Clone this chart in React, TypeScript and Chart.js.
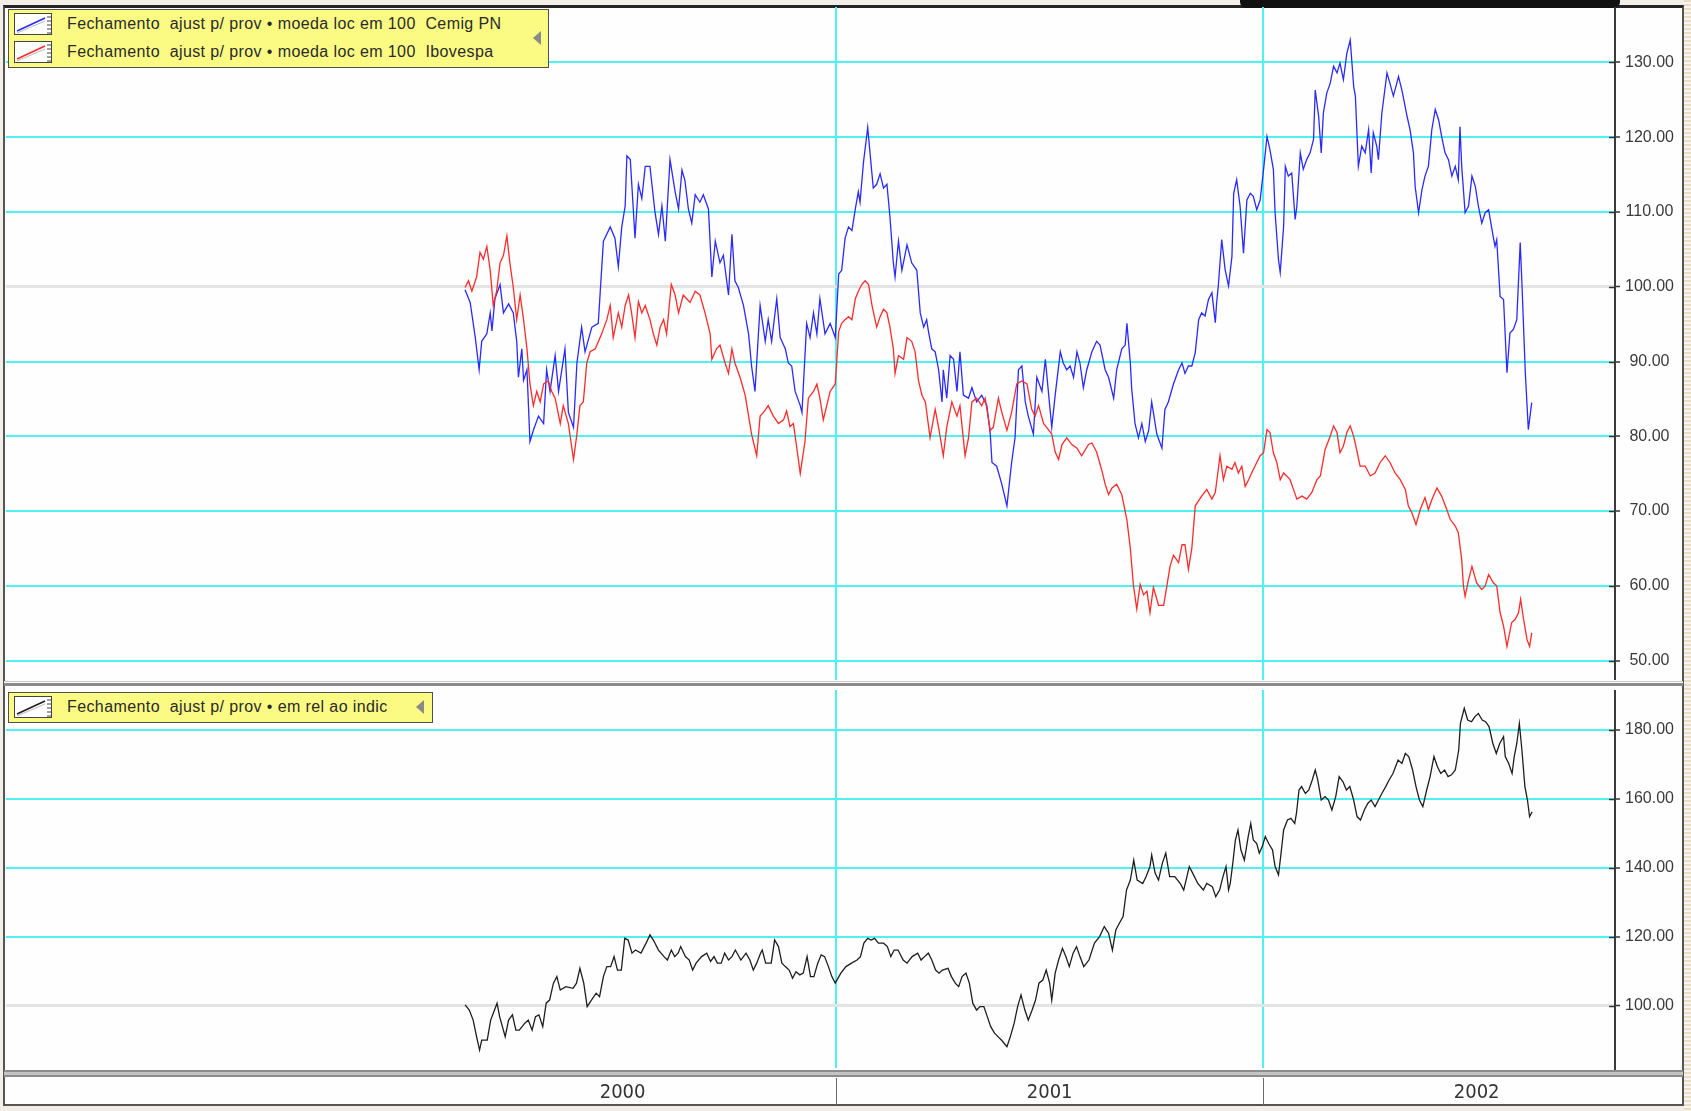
import React, { useEffect, useRef } from "react";
import { Chart, registerables } from "chart.js";

Chart.register(...registerables);

// ---------- data ----------
const cemigLabel = "Fechamento  ajust p/ prov • moeda loc em 100  Cemig PN";
const ibovLabel = "Fechamento  ajust p/ prov • moeda loc em 100  Ibovespa";
const relLabel = "Fechamento  ajust p/ prov • em rel ao indic";

const topTicks = [50, 60, 70, 80, 90, 100, 110, 120, 130];
const bottomTicks = [100, 120, 140, 160, 180];
const yearBoundaries = [2001, 2002];
const yearLabelTicks = [2000.5, 2001.5, 2002.5];
const yearLabels = ["2000", "2001", "2002"];

// decimal-year dates of the readings
const cemigT = [
  2000.131, 2000.143, 2000.155, 2000.164, 2000.17, 2000.182, 2000.19, 2000.194, 2000.201, 2000.213,
  2000.221, 2000.233, 2000.244, 2000.252, 2000.256, 2000.264, 2000.268, 2000.276, 2000.283, 2000.291,
  2000.303, 2000.315, 2000.322, 2000.33, 2000.342, 2000.35, 2000.365, 2000.373, 2000.385, 2000.393,
  2000.404, 2000.412, 2000.428, 2000.443, 2000.455, 2000.471, 2000.482, 2000.49, 2000.498, 2000.506,
  2000.51, 2000.518, 2000.525, 2000.529, 2000.537, 2000.545, 2000.553, 2000.564, 2000.576, 2000.584,
  2000.592, 2000.6, 2000.611, 2000.623, 2000.631, 2000.639, 2000.646, 2000.654, 2000.662, 2000.67,
  2000.681, 2000.689, 2000.701, 2000.709, 2000.717, 2000.728, 2000.736, 2000.748, 2000.756, 2000.763,
  2000.771, 2000.783, 2000.795, 2000.802, 2000.81, 2000.822, 2000.834, 2000.841, 2000.849, 2000.861,
  2000.869, 2000.881, 2000.888, 2000.896, 2000.904, 2000.916, 2000.92, 2000.931, 2000.939, 2000.947,
  2000.955, 2000.962, 2000.974, 2000.986, 2000.998,
  2001.006, 2001.013, 2001.021, 2001.029, 2001.037, 2001.045, 2001.052, 2001.056, 2001.064, 2001.074,
  2001.08, 2001.087, 2001.095, 2001.103, 2001.111, 2001.119, 2001.126, 2001.134, 2001.138, 2001.146,
  2001.154, 2001.166, 2001.177, 2001.189, 2001.197, 2001.205, 2001.212, 2001.216, 2001.224, 2001.232,
  2001.24, 2001.248, 2001.251, 2001.259, 2001.267, 2001.275, 2001.283, 2001.29, 2001.298, 2001.31,
  2001.318, 2001.329, 2001.341, 2001.353, 2001.361, 2001.365, 2001.376, 2001.388, 2001.4, 2001.411,
  2001.419, 2001.427, 2001.435, 2001.443, 2001.45, 2001.462, 2001.47, 2001.482, 2001.49, 2001.497,
  2001.505, 2001.513, 2001.525, 2001.532, 2001.54, 2001.548, 2001.556, 2001.564, 2001.571, 2001.579,
  2001.587, 2001.599, 2001.61, 2001.618, 2001.63, 2001.638, 2001.65, 2001.657, 2001.669, 2001.677,
  2001.681, 2001.689, 2001.692, 2001.7, 2001.708, 2001.716, 2001.724, 2001.732, 2001.739, 2001.751,
  2001.763, 2001.77, 2001.778, 2001.79, 2001.802, 2001.81, 2001.817, 2001.825, 2001.833,
  2001.841, 2001.849, 2001.856, 2001.864, 2001.872, 2001.88, 2001.888, 2001.891, 2001.895, 2001.903,
  2001.911, 2001.919, 2001.927, 2001.931, 2001.938, 2001.946, 2001.954, 2001.962, 2001.97, 2001.977,
  2001.985, 2001.993, 2002.001, 2002.009, 2002.016, 2002.024, 2002.028, 2002.036, 2002.04, 2002.048,
  2002.052, 2002.059, 2002.067, 2002.075, 2002.079, 2002.087, 2002.094, 2002.102, 2002.11, 2002.118,
  2002.122, 2002.13, 2002.136, 2002.141, 2002.149, 2002.157, 2002.165, 2002.173, 2002.18, 2002.188,
  2002.196, 2002.204, 2002.212, 2002.216, 2002.223, 2002.231, 2002.239, 2002.247, 2002.253, 2002.258,
  2002.266, 2002.27, 2002.278, 2002.29, 2002.297, 2002.305, 2002.317, 2002.325, 2002.337, 2002.344,
  2002.352, 2002.356, 2002.364, 2002.372, 2002.379, 2002.387, 2002.395, 2002.403, 2002.411, 2002.418,
  2002.426, 2002.434, 2002.442, 2002.45, 2002.457, 2002.461, 2002.465, 2002.473, 2002.481, 2002.489,
  2002.497, 2002.504, 2002.512, 2002.52, 2002.528, 2002.536, 2002.543, 2002.547, 2002.555, 2002.563,
  2002.571, 2002.578, 2002.586, 2002.594, 2002.602, 2002.606, 2002.614, 2002.621, 2002.629,
];
const cemigV = [
  99.6, 97.9, 93.2, 88.9, 92.7, 93.7, 96.5, 94.1, 98.4, 100.3,
  96.5, 97.7, 96.5, 92.7, 87.9, 91.7, 87.5, 88.9, 79.3, 80.8,
  82.7, 81.7, 88.9, 86.0, 90.8, 86.0, 91.7, 83.2, 81.2, 89.8,
  94.6, 91.3, 94.6, 95.1, 106.1, 108.0, 106.5, 102.7, 108.0, 110.8,
  117.5, 117.0, 110.4, 106.5, 113.7, 111.8, 116.1, 116.1, 109.9, 107.0,
  110.8, 106.1, 117.0, 112.7, 110.4, 115.6, 114.2, 110.4, 108.5, 112.3,
  111.3, 112.3, 110.4, 101.3, 106.1, 103.2, 104.2, 98.9, 107.0, 100.8,
  99.9, 97.5, 93.7, 89.4, 86.0, 97.5, 92.7, 95.6, 92.7, 98.4,
  93.2, 91.7, 89.8, 89.4, 86.0, 84.1, 83.2, 95.1, 93.2, 96.5,
  93.7, 98.4, 93.7, 95.1, 93.2,
  101.7, 102.2, 106.5, 108.0, 107.5, 110.4, 112.7, 111.3, 116.6, 121.3,
  117.5, 113.2, 113.7, 115.1, 113.2, 113.7, 109.4, 103.2, 101.3, 106.1,
  102.2, 105.6, 103.2, 102.2, 96.5, 94.6, 95.6, 94.1, 91.7, 91.3,
  88.9, 84.6, 88.9, 85.1, 90.8, 90.3, 86.0, 91.3, 85.5, 85.1,
  86.5, 84.6, 85.5, 84.1, 80.3, 76.5, 76.0, 73.6, 70.7, 76.5,
  79.8, 88.9, 89.4, 84.6, 82.7, 80.3, 87.9, 86.0, 90.3, 86.0,
  81.2, 85.5, 91.3, 89.8, 88.9, 89.4, 87.9, 91.3, 89.8, 86.5,
  88.9, 91.3, 92.7, 92.2, 88.9, 87.9, 85.1, 88.9, 91.7, 92.2,
  95.1, 89.8, 86.5, 81.7, 79.8, 81.7, 79.3, 80.8, 84.6, 80.3,
  78.4, 83.6, 84.6, 87.0, 88.9, 89.8, 88.4, 89.4, 89.4,
  91.2, 95.6, 96.5, 96.1, 98.3, 99.2, 95.2, 97.8, 100.1, 106.3,
  102.3, 100.1, 104.1, 112.5, 114.3, 110.8, 104.5, 111.6, 112.5, 112.1,
  110.3, 111.6, 115.7, 120.1, 118.3, 115.7, 109.9, 103.6, 101.9, 108.1,
  116.1, 114.8, 115.2, 109.0, 110.8, 117.9, 115.7, 117.0, 117.9, 119.7,
  126.3, 122.8, 117.9, 123.2, 125.9, 127.2, 129.5, 128.6, 129.9, 127.7,
  131.2, 133.0, 126.8, 125.5, 116.1, 118.8, 117.9, 121.0, 115.2, 120.6,
  118.8, 117.0, 123.2, 128.6, 127.2, 125.5, 128.1, 126.3, 122.8, 121.0,
  117.9, 113.4, 109.9, 113.0, 114.8, 116.1, 121.0, 123.7, 122.3, 120.1,
  117.9, 117.0, 114.8, 116.1, 114.3, 121.4, 116.1, 109.9, 110.8, 114.8,
  113.4, 110.8, 108.5, 109.9, 110.3, 107.6, 105.4, 106.3, 98.7, 98.3,
  88.5, 93.8, 94.3, 95.6, 105.9, 100.5, 88.5, 80.9, 84.5,
];

const ibovT = [
  2000.131, 2000.139, 2000.147, 2000.158, 2000.166, 2000.174, 2000.182, 2000.19, 2000.197, 2000.205,
  2000.213, 2000.221, 2000.229, 2000.236, 2000.244, 2000.252, 2000.26, 2000.268, 2000.276, 2000.283,
  2000.291, 2000.299, 2000.307, 2000.315, 2000.326, 2000.334, 2000.342, 2000.354, 2000.361, 2000.373,
  2000.385, 2000.393, 2000.4, 2000.408, 2000.416, 2000.424, 2000.436, 2000.451, 2000.463, 2000.471,
  2000.478, 2000.49, 2000.498, 2000.506, 2000.514, 2000.521, 2000.529, 2000.537, 2000.545, 2000.553,
  2000.564, 2000.572, 2000.58, 2000.588, 2000.596, 2000.603, 2000.614, 2000.623, 2000.631, 2000.642,
  2000.65, 2000.658, 2000.67, 2000.681, 2000.693, 2000.705, 2000.709, 2000.72, 2000.728, 2000.74,
  2000.748, 2000.756, 2000.763, 2000.775, 2000.787, 2000.802, 2000.814, 2000.822, 2000.83, 2000.841,
  2000.853, 2000.865, 2000.877, 2000.884, 2000.892, 2000.9, 2000.908, 2000.916, 2000.927, 2000.935,
  2000.947, 2000.955, 2000.962, 2000.97, 2000.978, 2000.986, 2000.998,
  2001.006, 2001.013, 2001.021, 2001.029, 2001.037, 2001.045, 2001.052, 2001.06, 2001.068, 2001.076,
  2001.084, 2001.095, 2001.103, 2001.111, 2001.119, 2001.126, 2001.134, 2001.138, 2001.146, 2001.158,
  2001.166, 2001.177, 2001.185, 2001.193, 2001.201, 2001.209, 2001.22, 2001.232, 2001.24, 2001.251,
  2001.259, 2001.271, 2001.283, 2001.29, 2001.302, 2001.31, 2001.318, 2001.329, 2001.341, 2001.349,
  2001.361, 2001.368, 2001.38, 2001.388, 2001.4, 2001.411, 2001.423, 2001.435, 2001.447, 2001.458,
  2001.466, 2001.474, 2001.486, 2001.493, 2001.505, 2001.513, 2001.521, 2001.529, 2001.54, 2001.552,
  2001.564, 2001.575, 2001.591, 2001.599, 2001.61, 2001.622, 2001.63, 2001.638, 2001.646, 2001.657,
  2001.669, 2001.681, 2001.689, 2001.696, 2001.704, 2001.712, 2001.72, 2001.728, 2001.735, 2001.743,
  2001.755, 2001.767, 2001.774, 2001.782, 2001.79, 2001.802, 2001.81, 2001.817, 2001.825, 2001.833,
  2001.841, 2001.856, 2001.868, 2001.88, 2001.888, 2001.899, 2001.907, 2001.915, 2001.927, 2001.934,
  2001.942, 2001.95, 2001.958, 2001.966, 2001.973, 2001.985, 2001.993, 2002.001, 2002.009, 2002.016,
  2002.024, 2002.032, 2002.04, 2002.048, 2002.055, 2002.063, 2002.071, 2002.079, 2002.091, 2002.102,
  2002.114, 2002.126, 2002.134, 2002.145, 2002.157, 2002.165, 2002.173, 2002.18, 2002.188, 2002.196,
  2002.204, 2002.212, 2002.219, 2002.227, 2002.239, 2002.251, 2002.262, 2002.274, 2002.286, 2002.297,
  2002.309, 2002.321, 2002.333,
  2002.34, 2002.348, 2002.358, 2002.368, 2002.379, 2002.387, 2002.395, 2002.407, 2002.418, 2002.43,
  2002.438, 2002.45, 2002.457, 2002.465, 2002.469, 2002.473, 2002.481, 2002.489, 2002.5, 2002.512,
  2002.52, 2002.528, 2002.539, 2002.547, 2002.555, 2002.563, 2002.571, 2002.582, 2002.59, 2002.598,
  2002.603, 2002.61, 2002.618, 2002.624, 2002.629,
];
const ibovV = [
  99.9, 100.8, 99.4, 101.3, 104.6, 103.7, 105.4, 102.2, 97.5, 99.4,
  103.2, 104.2, 106.8, 103.2, 99.9, 95.6, 98.9, 95.6, 91.7, 87.0,
  84.1, 86.0, 84.6, 87.0, 87.4, 86.0, 85.1, 81.7, 84.1, 81.7,
  76.9, 80.3, 84.1, 84.6, 89.8, 91.3, 91.7, 93.7, 95.6, 97.5,
  93.2, 96.5, 94.6, 97.5, 98.9, 96.5, 93.2, 98.0, 96.5, 97.5,
  95.6, 93.7, 92.2, 94.6, 95.6, 93.7, 100.3, 98.9, 96.5, 98.9,
  98.4, 97.9, 99.4, 98.9, 96.5, 93.7, 90.3, 91.7, 92.2, 89.8,
  88.4, 91.7, 89.8, 87.9, 85.5, 80.3, 77.4, 82.7, 83.2, 84.1,
  82.7, 81.7, 82.2, 83.4, 81.3, 81.7, 78.4, 75.0, 79.3, 85.1,
  86.0, 87.0, 85.1, 82.2, 84.1, 86.0, 87.0,
  94.0, 95.1, 95.6, 96.0, 95.6, 98.4, 99.4, 100.3, 100.8, 100.3,
  97.5, 94.6, 96.0, 97.0, 96.5, 94.6, 91.7, 88.4, 90.8, 90.3,
  93.2, 92.7, 91.3, 87.4, 85.5, 84.6, 79.8, 83.6, 81.2, 77.4,
  81.2, 84.6, 82.7, 84.1, 77.4, 79.8, 84.6, 85.1, 84.1, 85.1,
  80.8, 81.2, 85.1, 83.2, 80.8, 83.2, 87.0, 87.4, 87.0, 83.6,
  82.7, 84.1, 81.7, 81.2, 80.3, 77.9, 76.9, 78.9, 79.8, 78.9,
  78.4, 77.4, 78.9, 79.1, 77.9, 75.5, 73.6, 72.2, 73.1, 73.6,
  72.2, 68.8, 65.0, 60.2, 56.9, 60.2, 58.8, 59.3, 56.4, 59.8,
  57.4, 57.4, 59.8, 62.6, 64.1, 63.1, 65.5, 65.5, 62.2, 65.0,
  70.7, 72.0, 72.9, 71.6, 72.5, 77.4, 74.2, 76.0, 75.6, 76.5,
  75.1, 76.0, 73.3, 74.2, 75.1, 76.5, 77.4, 77.8, 80.9, 80.5,
  77.8, 76.5, 74.2, 75.1, 74.7, 74.2, 72.9, 71.6, 72.0, 71.6,
  72.5, 74.2, 74.7, 78.2, 80.0, 81.4, 80.5, 77.8, 78.7, 80.5,
  81.4, 80.0, 78.2, 76.0, 76.0, 74.7, 75.1, 76.5, 77.4, 76.5,
  75.1, 74.2, 72.9,
  70.7, 69.8, 68.2, 70.2, 71.8, 70.2, 71.5, 73.1, 72.0, 70.2,
  68.9, 68.0, 67.1, 63.5, 60.0, 58.6, 60.8, 62.6, 60.4, 59.5,
  60.0, 61.5, 60.4, 60.0, 56.4, 54.6, 51.9, 55.1, 55.5, 56.4,
  58.2, 55.5, 52.8, 51.9, 53.7,
];

const relT = [
  2000.131, 2000.141, 2000.15, 2000.158, 2000.165, 2000.17, 2000.183, 2000.191, 2000.2, 2000.206,
  2000.212, 2000.225, 2000.233, 2000.242, 2000.25, 2000.258, 2000.271, 2000.279, 2000.288, 2000.296,
  2000.304, 2000.313, 2000.321, 2000.329, 2000.338, 2000.346, 2000.354, 2000.367, 2000.384, 2000.392,
  2000.4, 2000.409, 2000.417, 2000.425, 2000.438, 2000.446, 2000.455, 2000.463, 2000.472, 2000.48,
  2000.488, 2000.497, 2000.505, 2000.513, 2000.522, 2000.53, 2000.543, 2000.555, 2000.564, 2000.572,
  2000.584, 2000.597, 2000.605, 2000.614, 2000.622, 2000.63, 2000.636, 2000.647, 2000.656, 2000.664,
  2000.672, 2000.685, 2000.697, 2000.706, 2000.714, 2000.722, 2000.731, 2000.739, 2000.748, 2000.756,
  2000.764, 2000.777, 2000.789, 2000.798, 2000.806, 2000.814, 2000.823, 2000.827, 2000.835, 2000.848,
  2000.856, 2000.865, 2000.873, 2000.881, 2000.89, 2000.898, 2000.906, 2000.915, 2000.923, 2000.932,
  2000.94, 2000.948, 2000.957, 2000.965, 2000.973, 2000.982, 2000.99, 2000.998, 2001.011, 2001.023,
  2001.036, 2001.049, 2001.057, 2001.065, 2001.074, 2001.082, 2001.09, 2001.099, 2001.111, 2001.12,
  2001.128, 2001.136, 2001.145, 2001.157, 2001.166, 2001.178, 2001.191, 2001.199, 2001.207, 2001.216,
  2001.224, 2001.233, 2001.241, 2001.249, 2001.262, 2001.27, 2001.279, 2001.287, 2001.295, 2001.304,
  2001.312, 2001.32, 2001.329, 2001.337, 2001.346, 2001.354, 2001.362, 2001.371, 2001.379, 2001.387,
  2001.4, 2001.408,
  2001.417, 2001.425, 2001.433, 2001.442, 2001.45, 2001.459, 2001.467, 2001.475, 2001.484, 2001.492,
  2001.5, 2001.505, 2001.513, 2001.521, 2001.53, 2001.538, 2001.546, 2001.555, 2001.563, 2001.571,
  2001.58, 2001.592, 2001.605, 2001.617, 2001.628, 2001.638, 2001.647, 2001.655, 2001.663, 2001.672,
  2001.68, 2001.689, 2001.697, 2001.705, 2001.718, 2001.726, 2001.735, 2001.739, 2001.747, 2001.755,
  2001.764, 2001.772, 2001.781, 2001.793, 2001.806, 2001.814, 2001.827, 2001.835, 2001.847, 2001.86,
  2001.868, 2001.881, 2001.889, 2001.898, 2001.906, 2001.913, 2001.919, 2001.923, 2001.929, 2001.935,
  2001.941, 2001.948, 2001.956, 2001.965, 2001.971, 2001.977, 2001.985, 2001.991, 2001.998, 2002.005,
  2002.013, 2002.022, 2002.028, 2002.036, 2002.042, 2002.048, 2002.057, 2002.065, 2002.074, 2002.078,
  2002.084, 2002.09, 2002.099, 2002.107, 2002.115, 2002.122, 2002.128, 2002.136, 2002.145, 2002.153,
  2002.161, 2002.17, 2002.178, 2002.187, 2002.195, 2002.203, 2002.212, 2002.22, 2002.228, 2002.237,
  2002.245, 2002.253, 2002.262, 2002.27, 2002.278, 2002.287, 2002.295, 2002.304, 2002.316, 2002.325,
  2002.333, 2002.341, 2002.35, 2002.358, 2002.366, 2002.374, 2002.383, 2002.391, 2002.4, 2002.408,
  2002.416, 2002.425, 2002.433, 2002.441, 2002.45, 2002.458, 2002.462, 2002.471, 2002.479, 2002.488,
  2002.496, 2002.504, 2002.513, 2002.521, 2002.529, 2002.538, 2002.546, 2002.554, 2002.563, 2002.567,
  2002.575, 2002.583, 2002.588, 2002.594, 2002.6, 2002.606, 2002.613, 2002.619, 2002.624, 2002.63,
];
const relV = [
  100.3, 98.8, 95.9, 91.1, 87.2, 90.1, 90.1, 95.9, 98.8, 100.8,
  96.9, 91.1, 95.9, 97.4, 93.0, 93.0, 95.0, 95.9, 93.0, 96.9,
  97.4, 94.0, 100.8, 101.7, 106.6, 108.5, 104.6, 105.6, 105.1, 106.6,
  110.9, 106.6, 99.8, 101.3, 103.7, 102.7, 108.5, 111.4, 111.4, 114.3,
  110.4, 110.4, 119.6, 119.1, 115.3, 116.2, 115.3, 118.2, 120.6, 119.1,
  116.2, 114.3, 113.3, 116.2, 114.3, 115.3, 117.2, 114.3, 113.3, 110.4,
  112.4, 114.3, 115.3, 112.9, 114.3, 112.4, 112.4, 115.3, 113.3, 114.3,
  116.2, 113.3, 115.3, 113.3, 110.4, 112.4, 115.3, 116.2, 112.4, 112.4,
  119.1, 117.2, 112.4, 111.4, 110.4, 108.0, 109.9, 109.0, 109.5, 114.3,
  108.5, 108.5, 112.4, 114.8, 114.3, 111.4, 108.5, 106.6, 109.5, 111.4,
  112.4, 113.3, 114.3, 118.2, 119.6, 119.1, 119.6, 118.2, 118.2, 117.2,
  114.3, 116.2, 116.2, 113.3, 112.4, 114.3, 115.3, 113.3, 114.3, 115.3,
  113.3, 110.4, 109.5, 110.4, 110.9, 108.5, 106.6, 105.6, 108.5, 109.5,
  106.6, 100.8, 98.8, 99.8, 99.8, 96.9, 94.0, 92.1, 91.1, 90.1,
  88.2, 91.1,
  95.0, 99.8, 103.2, 98.8, 95.9, 98.8, 101.7, 106.6, 107.5, 110.4,
  106.6, 101.7, 109.5, 113.3, 116.7, 114.3, 111.4, 115.3, 117.2, 114.3,
  111.4, 113.3, 118.2, 120.1, 123.0, 121.1, 116.2, 122.0, 123.9, 125.9,
  133.6, 136.5, 142.3, 136.5, 135.5, 137.5, 140.4, 143.8, 138.5, 136.5,
  141.4, 144.3, 137.5, 137.5, 135.5, 133.6, 140.4, 138.5, 135.5, 133.6,
  135.5, 134.6, 131.7, 133.6, 137.5, 140.4, 133.6, 135.5, 141.4, 148.1,
  151.0, 145.2, 142.3, 149.1, 152.9, 148.1, 147.1, 144.3, 146.2, 149.1,
  147.1, 145.2, 140.4, 138.0, 144.3, 151.0, 153.9, 154.4, 152.9, 155.8,
  162.6, 163.6, 161.6, 162.6, 165.5, 168.4, 165.5, 159.7, 160.7, 159.7,
  156.8, 160.7, 166.5, 165.0, 162.6, 163.6, 159.7, 154.9, 153.9, 156.8,
  158.7, 159.7, 157.8, 159.7, 161.6, 163.6, 165.5, 167.4, 171.3, 170.3,
  173.2, 172.3, 168.4, 163.6, 159.7, 157.8, 162.6, 166.5, 172.3, 169.4,
  167.4, 168.4, 166.5, 167.0, 168.4, 174.2, 181.9, 186.3, 182.9, 182.4,
  183.9, 184.8, 182.9, 182.4, 181.0, 176.1, 173.2, 176.1, 178.1, 172.3,
  170.3, 167.4, 172.3, 176.1, 181.9, 174.2, 163.6, 159.7, 154.9, 156.3,
];

// ---------- styling / layout ----------
const X_MIN = 1999.056;
const X_MAX = 2002.824;
const CYAN = "#4ef2f2";
const FONT = "'Liberation Sans', Arial, sans-serif";
const AXIS_W = 68;

const pts = (t: number[], v: number[]) => t.map((x, i) => ({ x, y: v[i] }));

const tickCross = {
  id: "tickCross",
  afterDraw(chart: any) {
    const y = chart.scales.y;
    if (!y) return;
    const ctx = chart.ctx;
    const ax = chart.chartArea.right;
    ctx.save();
    ctx.strokeStyle = "#333";
    ctx.lineWidth = 1.5;
    y.ticks.forEach((t: any) => {
      const py = Math.round(y.getPixelForValue(t.value)) + 0.5;
      ctx.beginPath();
      ctx.moveTo(ax - 6, py);
      ctx.lineTo(ax, py);
      ctx.stroke();
    });
    ctx.restore();
  },
};

const yearSeparators = {
  id: "yearSeparators",
  afterDraw(chart: any) {
    const xs = chart.scales.x;
    const ctx = chart.ctx;
    ctx.save();
    ctx.strokeStyle = "#6a6a6a";
    ctx.lineWidth = 1;
    yearBoundaries.forEach((v) => {
      const px = Math.round(xs.getPixelForValue(v)) + 0.5;
      ctx.beginPath();
      ctx.moveTo(px, chart.chartArea.bottom + 10);
      ctx.lineTo(px, chart.height);
      ctx.stroke();
    });
    ctx.restore();
  },
};

function noPad(axis: any) {
  axis.paddingTop = 0;
  axis.paddingBottom = 0;
  axis.paddingLeft = 0;
  axis.paddingRight = 0;
}

function yAxis(min: number, max: number, ticks: number[], baseline: number) {
  return {
    type: "linear",
    position: "right",
    min,
    max,
    afterBuildTicks: (axis: any) => {
      axis.ticks = ticks.map((v) => ({ value: v }));
    },
    afterFit: (axis: any) => {
      axis.width = AXIS_W;
      noPad(axis);
    },
    grid: {
      color: (c: any) => (c.tick && c.tick.value === baseline ? "#e4e4e4" : CYAN),
      lineWidth: (c: any) => (c.tick && c.tick.value === baseline ? 3 : 2),
      drawTicks: true,
      tickLength: 5,
      tickColor: "#333",
      tickWidth: 1.5,
    },
    border: { display: true, color: "#3a3a3a", width: 2 },
    ticks: {
      color: "#3a3a3a",
      font: { family: FONT, size: 16 },
      crossAlign: "center",
      padding: 5,
      callback: (v: any) => Number(v).toFixed(2),
    },
  };
}

function lineDs(label: string, data: any[], color: string) {
  return {
    label,
    data,
    borderColor: color,
    backgroundColor: color,
    borderWidth: 1.3,
    pointRadius: 0,
    tension: 0,
    fill: false,
  };
}

function topConfig(): any {
  return {
    type: "line",
    data: {
      datasets: [
        lineDs(ibovLabel, pts(ibovT, ibovV), "#ff2a2a"),
        lineDs(cemigLabel, pts(cemigT, cemigV), "#2a2aff"),
      ],
    },
    options: {
      responsive: false,
      animation: false,
      events: [],
      layout: { padding: 0, autoPadding: false },
      plugins: { legend: { display: false }, tooltip: { enabled: false } },
      scales: {
        x: {
          type: "linear",
          min: X_MIN,
          max: X_MAX,
          afterBuildTicks: (axis: any) => {
            axis.ticks = yearBoundaries.map((v) => ({ value: v }));
          },
          afterFit: (axis: any) => {
            axis.height = 0;
            noPad(axis);
          },
          ticks: { display: false },
          grid: { color: CYAN, lineWidth: 2, drawTicks: false },
          border: { display: false },
        },
        y: yAxis(47.41, 137.41, topTicks, 100),
      },
    },
    plugins: [tickCross],
  };
}

function bottomConfig(): any {
  return {
    type: "line",
    data: { datasets: [lineDs(relLabel, pts(relT, relV), "#1e1e1e")] },
    options: {
      responsive: false,
      animation: false,
      events: [],
      layout: { padding: 0, autoPadding: false },
      plugins: { legend: { display: false }, tooltip: { enabled: false } },
      scales: {
        x: {
          type: "linear",
          min: X_MIN,
          max: X_MAX,
          afterBuildTicks: (axis: any) => {
            const all = [...yearBoundaries, ...yearLabelTicks].sort((a, b) => a - b);
            axis.ticks = all.map((v) => ({ value: v }));
          },
          afterFit: (axis: any) => {
            axis.height = 37;
            noPad(axis);
          },
          ticks: {
            autoSkip: false,
            maxRotation: 0,
            padding: 13,
            color: "#333",
            font: { family: "'Liberation Sans Narrow', 'DejaVu Sans Condensed', Arial, sans-serif", size: 20 },
            callback: (v: any) => {
              const i = yearLabelTicks.indexOf(Number(v));
              return i >= 0 ? yearLabels[i] : "";
            },
          },
          grid: {
            color: (c: any) => (c.tick && yearBoundaries.includes(c.tick.value) ? CYAN : "rgba(0,0,0,0)"),
            lineWidth: 2,
            drawTicks: false,
          },
          border: { display: false },
        },
        y: yAxis(82.0, 191.6, bottomTicks, 100),
      },
    },
    plugins: [tickCross, yearSeparators],
  };
}

function ChartCanvas({ make, left, top, width, height }: any) {
  const ref = useRef<HTMLCanvasElement | null>(null);
  useEffect(() => {
    const chart = new Chart(ref.current as HTMLCanvasElement, make());
    return () => chart.destroy();
  }, []);
  return (
    <canvas
      ref={ref}
      width={width}
      height={height}
      style={{ position: "absolute", left, top, width, height, display: "block" }}
    />
  );
}

function Icon({ color }: { color: string }) {
  return (
    <svg width="40" height="22" style={{ position: "absolute", left: 0, top: 0 }}>
      <rect x="0.5" y="0.5" width="37" height="21" fill="#ffffff" stroke="#444" strokeWidth="1" />
      <line x1="3" y1="18" x2="31" y2="5" stroke={color} strokeWidth="1.6" />
      <line x1="3" y1="20" x2="31" y2="8" stroke="#bbb" strokeWidth="1" />
      <path d="M33 4h5M33 8h5M33 12h5M33 16h5M33 20h5" stroke="#444" strokeWidth="1" />
    </svg>
  );
}

function LegendBox({ left, top, width, height, rows, arrowLeft }: any) {
  return (
    <div
      style={{
        position: "absolute",
        left,
        top,
        width,
        height,
        boxSizing: "border-box",
        background: "#fbfb84",
        border: "1.5px solid #505050",
      }}
    >
      {rows.map((r: any, i: number) => (
        <React.Fragment key={i}>
          <div style={{ position: "absolute", left: 5, top: 3 + i * 28, width: 40, height: 22 }}>
            <Icon color={r.color} />
          </div>
          <div
            style={{
              position: "absolute",
              left: 58,
              top: 4 + i * 28,
              height: 20,
              lineHeight: "20px",
              fontFamily: FONT,
              fontSize: 16,
              letterSpacing: 0.4,
              color: "#2a2a2a",
              whiteSpace: "pre",
            }}
          >
            {r.label}
          </div>
        </React.Fragment>
      ))}
      <svg
        width="10"
        height="14"
        style={{ position: "absolute", left: arrowLeft, top: (height - 3) / 2 - 7 }}
      >
        <polygon points="9,0 9,14 1,7" fill="#8a8a8a" />
      </svg>
    </div>
  );
}

export default function App() {
  return (
    <div
      style={{
        position: "absolute",
        left: 0,
        top: 0,
        width: 1691,
        height: 1111,
        overflow: "hidden",
        background: "#f3eee8",
      }}
    >
      {/* right decorative strip */}
      <div
        style={{
          position: "absolute",
          left: 1684,
          top: 0,
          width: 7,
          height: 1111,
          background: "repeating-linear-gradient(180deg, #eadbc6 0px, #eadbc6 2px, #f8f4ee 2px, #f8f4ee 4px)",
        }}
      />
      {/* frame */}
      <div
        style={{
          position: "absolute",
          left: 3,
          top: 5,
          width: 1681,
          height: 1101,
          boxSizing: "border-box",
          background: "#fefefe",
          border: "2px solid #555",
          borderTop: "3px solid #262626",
        }}
      />
      {/* top black tab */}
      <div
        style={{
          position: "absolute",
          left: 1240,
          top: 0,
          width: 380,
          height: 8,
          background: "#111",
          borderRadius: "0 0 6px 6px",
        }}
      />
      <ChartCanvas make={topConfig} left={6} top={7} width={1677} height={673} />
      <ChartCanvas make={bottomConfig} left={6} top={690} width={1677} height={415} />
      {/* panel separator */}
      <div
        style={{
          position: "absolute",
          left: 4,
          top: 681,
          width: 1679,
          height: 5,
          background: "linear-gradient(180deg, #c8c8c8 0px, #c8c8c8 1px, #fff 1px, #fff 2px, #8a8a8a 2px, #8a8a8a 5px)",
        }}
      />
      {/* axis band */}
      <div
        style={{
          position: "absolute",
          left: 4,
          top: 1070,
          width: 1679,
          height: 7,
          background: "linear-gradient(180deg, #8c8c8c 0px, #8c8c8c 2px, #c4c4c4 2px, #c4c4c4 5px, #8c8c8c 5px, #8c8c8c 7px)",
        }}
      />
      <LegendBox
        left={8}
        top={9}
        width={541}
        height={59}
        arrowLeft={523}
        rows={[
          { label: cemigLabel, color: "#2a2aff" },
          { label: ibovLabel, color: "#ff2a2a" },
        ]}
      />
      <LegendBox
        left={8}
        top={692}
        width={425}
        height={31}
        arrowLeft={406}
        rows={[{ label: relLabel, color: "#1e1e1e" }]}
      />
    </div>
  );
}
